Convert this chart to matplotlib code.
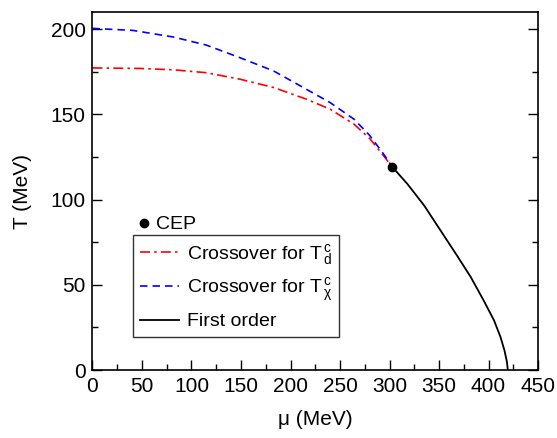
import matplotlib
matplotlib.use("Agg")
import matplotlib.pyplot as plt
from matplotlib.lines import Line2D

plt.rcParams['font.family'] = ['Liberation Sans', 'DejaVu Sans']
plt.rcParams['mathtext.fontset'] = 'custom'
plt.rcParams['mathtext.rm'] = 'Liberation Sans'
plt.rcParams['mathtext.it'] = 'Liberation Sans:italic'

# crossover of deconfinement (T_d^c)
mu_d = [0, 48, 82, 115, 149, 183, 216, 240, 264, 280, 294, 303]
T_d = [177.2, 176.9, 176.1, 174.4, 170.6, 165.7, 158.9, 153.0, 144.3, 135.8, 125.7, 119]

# crossover of chiral restoration (T_chi^c)
mu_chi = [0, 41, 82, 115, 149, 183, 216, 240, 264, 280, 294, 303]
T_chi = [200.4, 199.2, 195.3, 190.6, 183.2, 175.4, 164.7, 156.9, 147.2, 137.6, 126.7, 119]

# first order line
mu_fo = [303, 318, 335, 351.5, 368, 382, 395, 405.5, 412, 416, 418.5, 419.5]
T_fo = [119, 109.2, 96.5, 81.9, 67.3, 54.6, 40.9, 29.2, 19.5, 11.7, 5, 0]

cep_mu = [303]
cep_T = [119]

fig = plt.figure(figsize=(5.57, 4.38), dpi=100)
ax = fig.add_axes([0.166, 0.155, 0.800, 0.8176])

l_d, = ax.plot(mu_d, T_d, color='red', lw=1.2, dashes=[6, 2.5, 1.5, 2.5],
               label=r'Crossover for T$^{\,\mathrm{c}}_{\,\mathrm{d}}$')
l_chi, = ax.plot(mu_chi, T_chi, color='blue', lw=1.2, dashes=[4.5, 3],
                 label=r'Crossover for T$^{\,\mathrm{c}}_{\,\mathrm{χ}}$')
l_fo, = ax.plot(mu_fo, T_fo, color='black', lw=1.3, label='First order')
ax.plot(cep_mu, cep_T, 'o', color='black', ms=6, zorder=5)

ax.set_xlim(0, 450)
ax.set_ylim(0, 210)
ax.set_xticks(range(0, 451, 50))
ax.set_xticks(range(0, 451, 25), minor=True)
ax.set_yticks(range(0, 201, 50))
ax.set_yticks(range(0, 210, 25), minor=True)
ax.tick_params(which='both', direction='in', right=True, top=False, labelsize=15, width=1)
ax.tick_params(which='major', length=7, pad=5)
ax.tick_params(which='minor', length=4)
for s in ax.spines.values():
    s.set_linewidth(1.2)

ax.set_xlabel('μ (MeV)', fontsize=15, labelpad=10)
ax.set_ylabel('T (MeV)', fontsize=15, labelpad=13)

leg = ax.legend(handles=[l_d, l_chi, l_fo], loc='lower left', bbox_to_anchor=(0.092, 0.092),
                fontsize=14, frameon=True, fancybox=False, edgecolor='black',
                handlelength=2.0, handletextpad=0.4, borderaxespad=0, labelspacing=0.45,
                borderpad=0.35)
leg.get_frame().set_linewidth(1)
ax.add_artist(leg)

cep_handle = Line2D([], [], marker='o', color='black', ls='none', ms=6)
ax.legend(handles=[cep_handle], labels=['CEP'], loc='lower left', bbox_to_anchor=(0.085, 0.36),
          fontsize=14, frameon=False, handlelength=0.6, handletextpad=0.3, borderaxespad=0)

fig.savefig('out.png', dpi=100)
